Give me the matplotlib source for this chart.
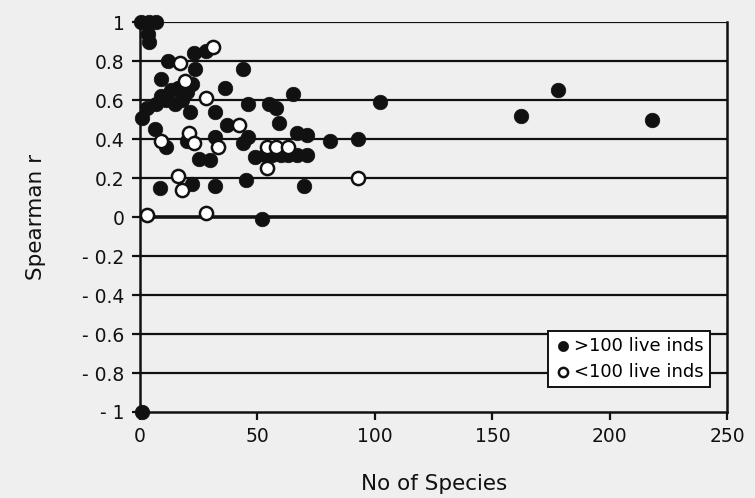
import matplotlib
matplotlib.use('Agg')
import matplotlib.pyplot as plt
import numpy as np

# ── Data ──────────────────────────────────────────────────────
big_x = [0.5, 4, 7, 3.5, 4,
         12, 23, 28, 23.5, 44,
         9, 36, 65,
         46, 55, 58, 102,
         3, 7, 11, 13, 16, 18, 20, 15, 21.5, 32, 9, 22,
         1, 59, 37, 6.5, 11, 20, 32, 44, 46, 67, 71,
         25, 30, 49, 53, 56, 60, 63, 67, 71,
         8.5, 22, 32, 45, 70, 81, 93,
         52, 1,
         162, 178, 218]
big_y = [1.0, 1.0, 1.0, 0.94, 0.9,
         0.8, 0.84, 0.85, 0.76, 0.76,
         0.71, 0.66, 0.63,
         0.58, 0.58, 0.56, 0.59,
         0.56, 0.58, 0.6, 0.65, 0.66, 0.6, 0.64, 0.58, 0.54, 0.54, 0.62, 0.68,
         0.51, 0.48, 0.47, 0.45, 0.36, 0.39, 0.41, 0.38, 0.41, 0.43, 0.42,
         0.3, 0.29, 0.31, 0.32, 0.32, 0.32, 0.32, 0.32, 0.32,
         0.15, 0.17, 0.16, 0.19, 0.16, 0.39, 0.4,
         -0.01, -1.0,
         0.52, 0.65, 0.5]

small_x = [17, 31, 19, 28, 42, 9, 21, 23, 33, 54, 58, 63, 54, 16, 18, 93, 3, 28]
small_y = [0.79, 0.87, 0.7, 0.61, 0.47, 0.39, 0.43, 0.38, 0.36, 0.36, 0.36,
           0.36, 0.25, 0.21, 0.14, 0.2, 0.01, 0.02]

x_ticks = [0, 50, 100, 150, 200, 250]
y_ticks = [-1, -0.8, -0.6, -0.4, -0.2, 0, 0.2, 0.4, 0.6, 0.8, 1]
y_tick_labels = ['- 1', '- 0.8', '- 0.6', '- 0.4', '- 0.2', '0',
                 '0.2', '0.4', '0.6', '0.8', '1']

# ── Style ─────────────────────────────────────────────────────
BG = '#efefef'
INK = '#111111'

fig = plt.figure(figsize=(7.55, 4.98), dpi=100, facecolor=BG)
ax = fig.add_axes([0.1854, 0.1727, 0.778, 0.783])
ax.set_facecolor(BG)

# horizontal grid lines
for yv in y_ticks[1:]:
    ax.axhline(yv, color=INK, lw=2.6 if yv == 0 else 1.6, zorder=1)

ax.scatter(big_x, big_y, s=110, c=INK, edgecolors=INK, linewidths=0.5,
           zorder=3, label='>100 live inds', clip_on=False)
ax.scatter(small_x, small_y, s=90, facecolors='white', edgecolors=INK,
           linewidths=1.8, zorder=4, label='<100 live inds', clip_on=False)

ax.set_xlim(0, 250)
ax.set_ylim(-1, 1)
ax.set_xticks(x_ticks)
ax.set_yticks(y_ticks)
ax.set_yticklabels(y_tick_labels)

for side in ['left', 'bottom', 'right']:
    ax.spines[side].set_color(INK)
    ax.spines[side].set_linewidth(1.8)
ax.spines['top'].set_visible(False)

ax.tick_params(axis='both', direction='out', length=6, width=1.6,
               color=INK, labelsize=13.5, labelcolor=INK, pad=5)

ax.set_xlabel('No of Species', fontsize=15.5, color=INK, labelpad=20)
ax.set_ylabel('Spearman r', fontsize=15.5, color=INK, labelpad=26)

leg = ax.legend(loc='lower right', bbox_to_anchor=(0.985, 0.04),
                fontsize=13, frameon=True, fancybox=False,
                handletextpad=0.15, borderpad=0.35, labelspacing=0.45,
                markerscale=0.7, handlelength=0.9)
leg.get_frame().set_edgecolor(INK)
leg.get_frame().set_linewidth(1.4)
leg.get_frame().set_facecolor('white')
leg.get_frame().set_alpha(1)
leg.set_zorder(5)

fig.savefig('out.png', dpi=100, facecolor=BG)
